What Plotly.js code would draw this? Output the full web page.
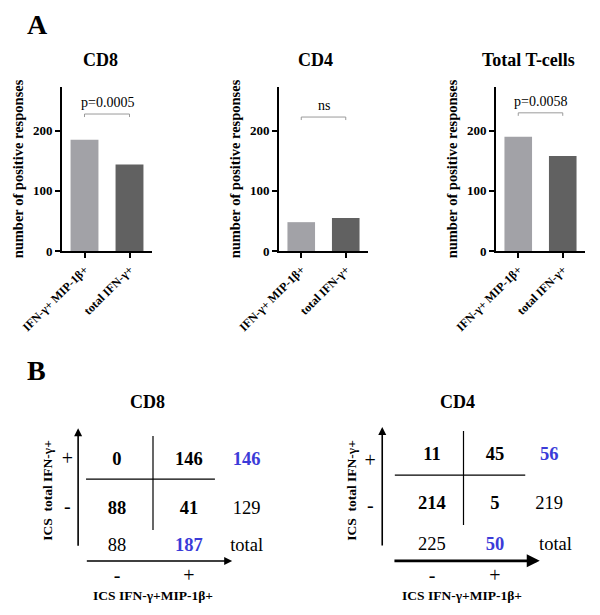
<!DOCTYPE html>
<html>
<head>
<meta charset="utf-8">
<script src="https://cdn.plot.ly/plotly-3.0.1.min.js"></script>
<style>html,body{margin:0;padding:0;background:#fff}#chart{width:600px;height:615px}</style>
</head>
<body>
<div id="chart"></div>
<script>
// ---------- DATA ----------
const categories = ['IFN-γ+ MIP-1β+', 'total IFN-γ+'];
const panelTitles = ['CD8', 'CD4', 'Total T-cells'];
const cd8Counts = [185, 144];
const cd4Counts = [48, 55];
const totalCounts = [190, 158];
const pLabels = ['p=0.0005', 'ns', 'p=0.0058'];
const yTickVals = [0, 100, 200];

// 2x2 tables: rows = total IFN-γ+ (+, -), cols = IFN-γ+MIP-1β+ (-, +)
const cd8Table = [[0, 146], [88, 41]];
const cd8RowTotals = [146, 129];
const cd8ColTotals = [88, 187];
const cd4Table = [[11, 45], [214, 5]];
const cd4RowTotals = [56, 219];
const cd4ColTotals = [225, 50];
const signLabels = ['-', '+'];

// ---------- STYLE / LAYOUT ----------
const W = 600, H = 615;
const fx = p => p / W, fy = p => 1 - p / H;
const SERIF = 'Liberation Serif';
const LIGHT = '#a2a2a7', DARK = '#616161', BLUE = '#3b3bd8';
const barDomX = [[62, 152], [279, 368], [496, 585]];
const barDomY = [87, 251];
const titleX = [100, 316, 528];
const YMAX = 273;
const bracketY = [228, 223, 230];
const B = s => '<b>' + s + '</b>';
const C = {xanchor: 'center', yanchor: 'middle', showarrow: false};

const seriesList = [cd8Counts, cd4Counts, totalCounts];
const data = [];
const layout = {
  width: W, height: H,
  margin: {l: 0, r: 0, t: 0, b: 0},
  paper_bgcolor: '#fff', plot_bgcolor: '#fff',
  showlegend: false,
  font: {family: SERIF, color: '#000'},
  shapes: [], annotations: []
};

seriesList.forEach((vals, i) => {
  const n = i === 0 ? '' : String(i + 1);
  data.push({
    type: 'bar', x: categories, y: vals,
    xaxis: 'x' + n, yaxis: 'y' + n,
    width: 0.62,
    marker: {color: [LIGHT, DARK], line: {width: 0}},
    hoverinfo: 'skip'
  });
  layout['xaxis' + n] = {
    domain: [fx(barDomX[i][0]), fx(barDomX[i][1])],
    anchor: 'y' + n, type: 'category', range: [-0.5, 1.5],
    tickmode: 'array', tickvals: categories, ticktext: categories.map(B),
    showline: true, linewidth: 2, linecolor: '#000',
    ticks: 'outside', ticklen: 5, tickwidth: 2, tickcolor: '#000',
    tickangle: -45, showgrid: false, zeroline: false,
    tickfont: {family: SERIF, size: 12, color: '#000'},
    fixedrange: true
  };
  layout['yaxis' + n] = {
    domain: [fy(barDomY[1]), fy(barDomY[0])],
    anchor: 'x' + n, range: [0, YMAX],
    tickmode: 'array', tickvals: yTickVals, ticktext: yTickVals.map(v => B(v)),
    showline: true, linewidth: 2, linecolor: '#000',
    ticks: 'outside', ticklen: 5, tickwidth: 2, tickcolor: '#000',
    showgrid: false, zeroline: false,
    tickfont: {family: SERIF, size: 13, color: '#000'},
    title: {text: B('number of positive responses'), standoff: 6,
            font: {family: SERIF, size: 14.5, color: '#000'}},
    fixedrange: true
  };
  // significance bracket
  const xr = 'x' + n, yr = 'y' + n;
  const bl = {color: '#9a9a9a', width: 1};
  layout.shapes.push(
    {type: 'line', xref: xr, yref: yr, x0: 0, x1: 1, y0: bracketY[i], y1: bracketY[i], line: bl},
    {type: 'line', xref: xr, yref: yr, x0: 0, x1: 0, y0: bracketY[i], y1: bracketY[i] - 5, line: bl},
    {type: 'line', xref: xr, yref: yr, x0: 1, x1: 1, y0: bracketY[i], y1: bracketY[i] - 5, line: bl}
  );
  layout.annotations.push({
    xref: xr, yref: yr, x: 0.5, y: bracketY[i] + 3, xanchor: 'center', yanchor: 'bottom',
    text: pLabels[i], showarrow: false,
    font: {family: SERIF, size: 14, color: '#000'}
  });
  layout.annotations.push(Object.assign({
    xref: 'paper', yref: 'paper', x: fx(titleX[i]), y: fy(60),
    text: B(panelTitles[i]),
    font: {family: SERIF, size: 18, color: '#000'}
  }, C));
});

// panel letters
layout.annotations.push(
  Object.assign({xref: 'paper', yref: 'paper', x: fx(37), y: fy(24), text: B('A'),
   font: {family: SERIF, size: 28, color: '#000'}}, C),
  Object.assign({xref: 'paper', yref: 'paper', x: fx(36), y: fy(370), text: B('B'),
   font: {family: SERIF, size: 28, color: '#000'}}, C)
);

// ---------- Panel B tables ----------
// each table gets hidden axes in "cell units": column / row index
function addTable(k, title, table, rowTot, colTot, g) {
  const xa = 'xaxis' + k, ya = 'yaxis' + k, xr = 'x' + k, yr = 'y' + k;
  const xR = [-1.1, 2.5], yR = [2.9, -0.8];
  const px = u => fx(g.x0 + u * g.dx), py = v => fy(g.y0 + v * g.dy);
  layout[xa] = {domain: [px(xR[0]), px(xR[1])], range: xR,
    anchor: yr, visible: false, fixedrange: true};
  layout[ya] = {domain: [py(yR[0]), py(yR[1])], range: yR,
    anchor: xr, visible: false, fixedrange: true};
  const xs = [], ys = [], txt = [], col = [];
  // inner cells (bold)
  for (let r = 0; r < 2; r++) for (let c = 0; c < 2; c++) {
    xs.push(c); ys.push(r); txt.push(B(table[r][c])); col.push('#000');
  }
  // row totals: "+" row blue bold, "-" row plain
  rowTot.forEach((v, r) => {
    xs.push(g.totCol); ys.push(r);
    txt.push(r === 0 ? B(v) : String(v)); col.push(r === 0 ? BLUE : '#000');
  });
  // column totals: "-" col plain, "+" col blue bold
  colTot.forEach((v, c) => {
    xs.push(c); ys.push(g.totRow);
    txt.push(c === 1 ? B(v) : String(v)); col.push(c === 1 ? BLUE : '#000');
  });
  xs.push(g.totCol + g.totShift); ys.push(g.totRow); txt.push('total'); col.push('#000');
  data.push({type: 'scatter', mode: 'text', x: xs, y: ys, text: txt,
    xaxis: xr, yaxis: yr, cliponaxis: false, hoverinfo: 'skip',
    textfont: {family: SERIF, size: 18.5, color: col}});
  // sign labels
  const sx = [0, 1, g.signCol, g.signCol], sy = [g.signRow, g.signRow, g.plusRow, g.minusRow];
  data.push({type: 'scatter', mode: 'text', x: sx, y: sy,
    text: [signLabels[0], signLabels[1], signLabels[1], signLabels[0]],
    xaxis: xr, yaxis: yr, cliponaxis: false, hoverinfo: 'skip',
    textfont: {family: SERIF, size: 20, color: '#000'}});
  const L = {color: '#000', width: 1.2};
  layout.shapes.push(
    {type: 'line', xref: xr, yref: yr, x0: g.hdiv[0], x1: g.hdiv[1], y0: g.hdivY, y1: g.hdivY, line: L},
    {type: 'line', xref: xr, yref: yr, x0: 0.5, x1: 0.5, y0: g.vdiv[0], y1: g.vdiv[1], line: L}
  );
  layout.annotations.push(
    {xref: xr, yref: yr, axref: xr, ayref: yr, x: g.vArrowX, y: g.vArrow[1], ax: g.vArrowX, ay: g.vArrow[0],
     showarrow: true, arrowhead: 2, arrowsize: 1, arrowwidth: 1.6, arrowcolor: '#000', text: ''},
    {xref: xr, yref: yr, axref: xr, ayref: yr, x: g.hArrow[1], y: g.hArrowY, ax: g.hArrow[0], ay: g.hArrowY,
     showarrow: true, arrowhead: 2, arrowsize: 1, arrowwidth: g.hw, arrowcolor: '#000', text: ''},
    Object.assign({xref: 'paper', yref: 'paper', x: px(g.titleX), y: py(g.titleY), text: B(title),
     font: {family: SERIF, size: 18, color: '#000'}}, C),
    Object.assign({xref: 'paper', yref: 'paper', x: px(g.xlabX), y: py(g.xlabY), text: B('ICS IFN-γ+MIP-1β+'),
     font: {family: SERIF, size: 13.5, color: '#000'}}, C),
    Object.assign({xref: 'paper', yref: 'paper', x: px(g.ylabX), y: py(g.ylabY), text: B('ICS&nbsp; total IFN-γ+'),
     textangle: -90, font: {family: SERIF, size: 13.5, color: '#000'}}, C)
  );
}

addTable(4, 'CD8', cd8Table, cd8RowTotals, cd8ColTotals, {
  x0: 117, dx: 72, y0: 460, dy: 49,
  totCol: 1.8, totRow: 1.76, totShift: 0, signRow: 2.38, signCol: -0.69, plusRow: 0, minusRow: 0.98,
  hdiv: [-0.43, 1.36], hdivY: 0.39, vdiv: [-0.49, 1.43],
  vArrowX: -0.54, vArrow: [1.78, -0.65], hArrow: [-0.44, 1.6], hArrowY: 2.06, hw: 1.6,
  titleX: 0.42, titleY: -1.18, xlabX: 0.5, xlabY: 2.76, ylabX: -0.96, ylabY: 0.61
});
addTable(5, 'CD4', cd4Table, cd4RowTotals, cd4ColTotals, {
  x0: 432, dx: 63, y0: 455, dy: 49,
  totCol: 1.86, totRow: 1.84, totShift: 0.1, signRow: 2.49, signCol: -0.98, plusRow: 0.14, minusRow: 1.06,
  hdiv: [-0.59, 1.48], hdivY: 0.41, vdiv: [-0.49, 1.43],
  vArrowX: -0.79, vArrow: [1.88, -0.57], hArrow: [-0.62, 1.71], hArrowY: 2.16, hw: 2.6,
  titleX: 0.4, titleY: -1.08, xlabX: 0.48, xlabY: 2.86, ylabX: -1.27, ylabY: 0.71
});

Plotly.newPlot('chart', data, layout, {displayModeBar: false, staticPlot: true});
</script>
</body>
</html>
